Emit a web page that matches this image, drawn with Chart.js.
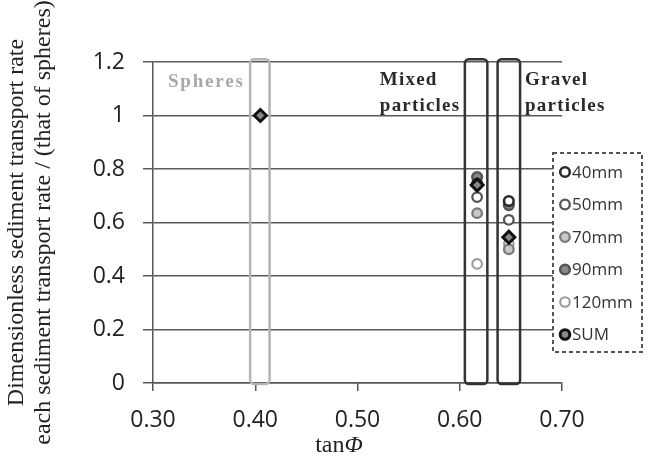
<!DOCTYPE html>
<html>
<head>
<meta charset="utf-8">
<script src="https://cdn.jsdelivr.net/npm/chart.js@4.4.1/dist/chart.umd.min.js"></script>
<style>
  html, body { margin: 0; padding: 0; background: #fff; }
  canvas { display: block; }
</style>
</head>
<body>
<canvas id="myChart" width="650" height="460"></canvas>
<script>
// particle groups, their tan(phi) and the x extent of the frame around each
const groupNames = [['Spheres'], ['Mixed', 'particles'], ['Gravel', 'particles']];
const tanPhi = [0.405, 0.617, 0.648];
const boxFrom = [0.395, 0.605, 0.637];
const boxTo = [0.414, 0.627, 0.659];

// dimensionless transport rate, one value per group (spheres only has the sum)
const rate40 = [null, 0.745, 0.68];
const rate50 = [null, 0.695, 0.61];
const rate70 = [null, 0.635, 0.50];
const rate90 = [null, 0.77, 0.665];
const rate120 = [null, 0.445, 0.52];
const rateSum = [1.0, 0.74, 0.545];

const xTicks = [0.3, 0.4, 0.5, 0.6, 0.7];
const yTicks = [0, 0.2, 0.4, 0.6, 0.8, 1.0, 1.2];

function pts(ys) {
  return tanPhi.map((x, i) => ({ x: x, y: ys[i] })).filter(p => p.y !== null);
}

function series(label, ys, border, fill, width) {
  return {
    label: label,
    data: pts(ys),
    pointStyle: 'circle',
    pointRadius: 4.8,
    pointBorderWidth: width,
    borderColor: border,
    backgroundColor: fill,
    showLine: false
  };
}

// frames + group captions
const framesPlugin = {
  id: 'frames',
  beforeDatasetsDraw(chart) {
    const { ctx, scales: { x, y } } = chart;
    ctx.save();
    for (let i = 0; i < tanPhi.length; i++) {
      const x0 = x.getPixelForValue(boxFrom[i]);
      const x1 = x.getPixelForValue(boxTo[i]);
      const y0 = y.getPixelForValue(1.21);
      const y1 = y.getPixelForValue(0) + 1;
      ctx.beginPath();
      ctx.roundRect(x0, y0, x1 - x0, y1 - y0, 4);
      ctx.lineWidth = 2.5;
      ctx.strokeStyle = i === 0 ? '#b4b4b4' : '#333';
      ctx.stroke();
    }
    ctx.restore();
  },
  afterDraw(chart) {
    const { ctx, scales: { x, y }, chartArea } = chart;
    ctx.save();
    ctx.font = 'bold 19px "Liberation Serif", serif';
    ctx.textBaseline = 'alphabetic';
    ctx.textAlign = 'left';
    const left = [chartArea.left + 15, x.getPixelForValue(boxFrom[1]) - 85, x.getPixelForValue(boxTo[2]) + 5];
    groupNames.forEach((lines, i) => {
      ctx.letterSpacing = i === 0 ? '1.8px' : '1.2px';
      ctx.fillStyle = i === 0 ? '#a8a8a8' : '#2a2a2a';
      lines.forEach((t, j) => ctx.fillText(t, left[i], (i === 0 ? 87 : 85) + j * 26));
    });

    // x axis title: tan + italic phi
    ctx.letterSpacing = '0px';
    ctx.fillStyle = '#222';
    ctx.font = '24px "Liberation Serif", serif';
    const w1 = ctx.measureText('tan').width;
    ctx.font = 'italic 24px "Liberation Serif", serif';
    const w2 = ctx.measureText('\u03A6').width;
    const sx = 339 - (w1 + w2) / 2;
    ctx.font = '24px "Liberation Serif", serif';
    ctx.fillText('tan', sx, 452);
    ctx.font = 'italic 24px "Liberation Serif", serif';
    ctx.fillText('\u03A6', sx + w1, 452);

    // legend box
    const bx = 553, by = 153, bw = 89, bh = 199;
    ctx.fillStyle = '#fff';
    ctx.fillRect(bx, by, bw, bh);
    ctx.setLineDash([4, 3]);
    ctx.lineWidth = 2;
    ctx.strokeStyle = '#555';
    ctx.strokeRect(bx, by, bw, bh);
    ctx.setLineDash([]);
    ctx.font = '17px "Open Sans", sans-serif';
    ctx.textBaseline = 'middle';
    chart.data.datasets.forEach((ds, i) => {
      const cy = 172 + i * 32.5;
      ctx.beginPath();
      ctx.arc(565, cy, 4.8, 0, Math.PI * 2);
      ctx.fillStyle = ds.backgroundColor;
      ctx.fill();
      ctx.lineWidth = ds.label === 'SUM' ? 3 : ds.pointBorderWidth;
      ctx.strokeStyle = ds.label === 'SUM' ? '#111' : ds.borderColor;
      ctx.stroke();
      ctx.fillStyle = '#333';
      ctx.fillText(ds.label, 572, cy + 1);
    });
    ctx.restore();
  }
};

const ctx = document.getElementById('myChart').getContext('2d');
const myChart = new Chart(ctx, {
  type: 'scatter',
  data: {
    datasets: [
      series('40mm', rate40, '#2a2a2a', '#fff', 2.6),
      series('50mm', rate50, '#555', '#fff', 2.3),
      series('70mm', rate70, '#7a7a7a', '#c8c8c8', 2.3),
      series('90mm', rate90, '#555', '#8a8a8a', 2.6),
      series('120mm', rate120, '#9a9a9a', '#fff', 2.1),
      {
        label: 'SUM',
        data: pts(rateSum),
        order: -1,
        pointStyle: 'rectRot',
        pointRadius: 6,
        pointBorderWidth: 3,
        borderColor: '#111',
        backgroundColor: '#888',
        showLine: false
      }
    ]
  },
  options: {
    responsive: false,
    animation: false,
    layout: { padding: { top: 62, right: 88, bottom: 0, left: 0 } },
    plugins: {
      legend: { display: false },
      tooltip: { enabled: false }
    },
    scales: {
      x: {
        type: 'linear',
        min: 0.3,
        max: 0.7,
        afterBuildTicks: s => { s.ticks = xTicks.map(v => ({ value: v })); },
        afterFit: s => { s.height = 77; },
        ticks: {
          callback: v => Number(v).toFixed(2),
          font: { family: '"Open Sans", sans-serif', size: 23 },
          color: '#222',
          padding: 16,
          maxRotation: 0
        },
        grid: { drawOnChartArea: false, drawTicks: true, tickLength: 8, color: '#555', lineWidth: 1.5 },
        border: { display: true, color: '#555', width: 1.5 }
      },
      y: {
        type: 'linear',
        min: 0,
        max: 1.2,
        afterBuildTicks: s => { s.ticks = yTicks.map(v => ({ value: v })); },
        afterFit: s => { s.width = 153; },
        ticks: {
          callback: v => String(Number(v.toFixed(1))),
          font: { family: '"Open Sans", sans-serif', size: 23 },
          color: '#222',
          padding: 18
        },
        grid: { color: '#5a5a5a', lineWidth: 1.5, tickLength: 10 },
        border: { display: true, color: '#555', width: 1.5 },
        title: {
          display: true,
          text: ['Dimensionless sediment transport rate', 'each sediment transport rate / (that of spheres)'],
          font: { family: '"Liberation Serif", serif', size: 24, lineHeight: 1.125 },
          color: '#222',
          padding: { top: 3.5, bottom: 0 }
        }
      }
    }
  },
  plugins: [framesPlugin]
});
</script>
</body>
</html>
